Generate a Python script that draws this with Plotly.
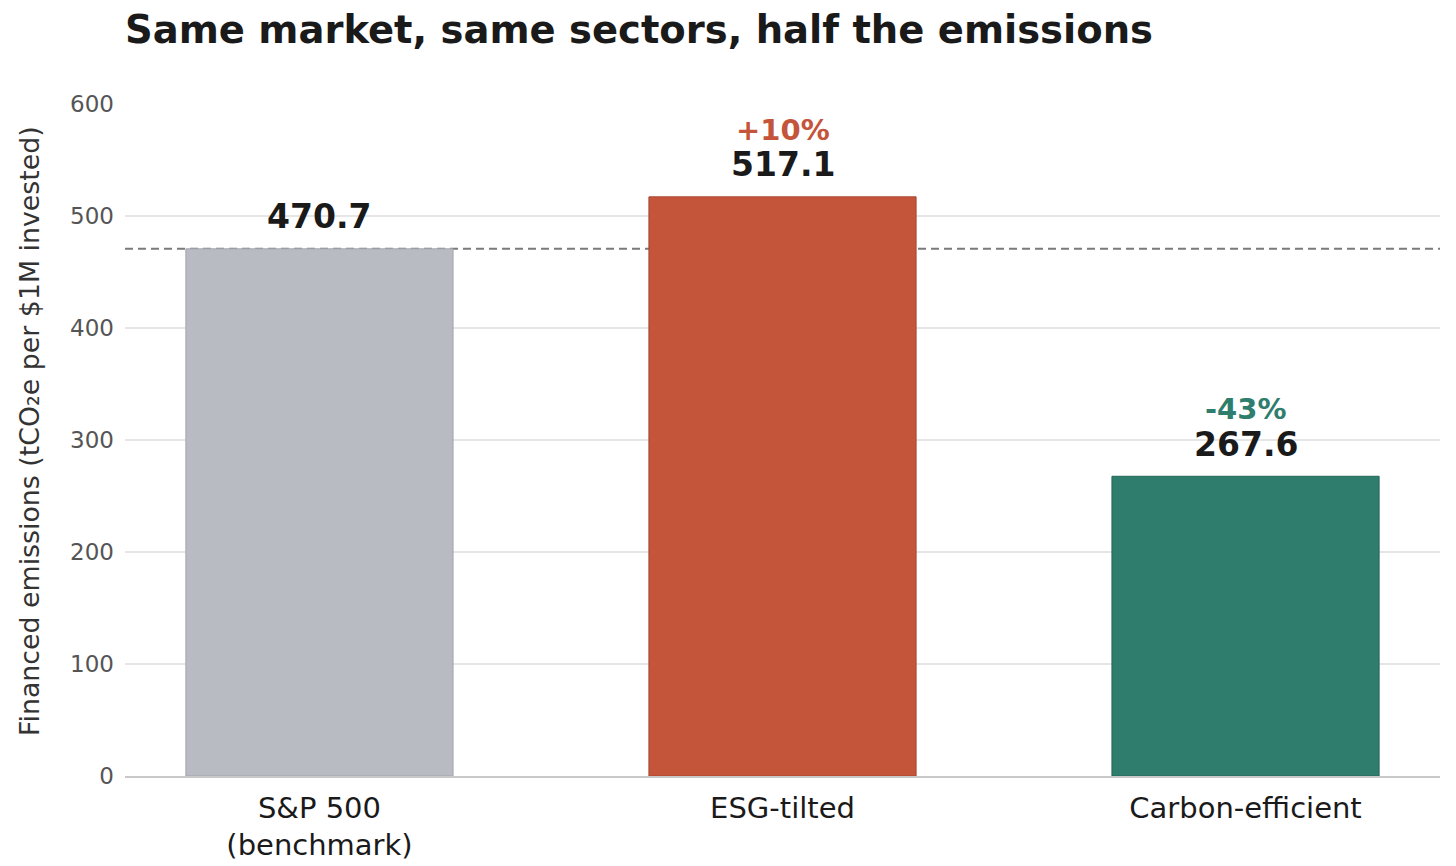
import plotly.graph_objects as go

# data
categories = ["S&P 500<br>(benchmark)", "ESG-tilted", "Carbon-efficient"]
emissions = [470.7, 517.1, 267.6]
bar_colors = ["#b8bbc2", "#c4553b", "#2e7d6d"]
edge_colors = ["#a3a6ad", "#a84630", "#23665a"]
benchmark = emissions[0]

FONT = "DejaVu Sans"

fig = go.Figure()
fig.add_trace(go.Bar(
    x=categories, y=emissions, width=0.577,
    marker=dict(color=bar_colors, line=dict(color=edge_colors, width=1)),
    hoverinfo="skip",
))

# benchmark reference line
fig.add_shape(type="line", xref="paper", yref="y", x0=0, x1=1,
              y0=benchmark, y1=benchmark, layer="below",
              line=dict(color="#7a7a7a", width=2, dash="8px,5px"))

# value labels + change vs benchmark
for i, (cat, val) in enumerate(zip(categories, emissions)):
    fig.add_annotation(x=cat, y=val, text=f"<b>{val:.1f}</b>", showarrow=False,
                       yanchor="middle", yshift=32,
                       font=dict(family=FONT, size=33, color="#1a1a1a"))
    if i > 0:
        pct = (val / benchmark - 1) * 100
        fig.add_annotation(x=cat, y=val, text=f"<b>{pct:+.0f}%</b>", showarrow=False,
                           yanchor="middle", yshift=67,
                           font=dict(family=FONT, size=29, color=bar_colors[i]))

# y-axis title as an annotation so it can sit where the reference has it
fig.add_annotation(xref="paper", yref="paper", x=0, y=0.5, xshift=-96, yshift=9,
                   xanchor="center", yanchor="middle", textangle=-90, showarrow=False,
                   text="Financed emissions (tCO₂e per $1M invested)",
                   font=dict(family=FONT, size=26.8, color="#333333"))

fig.update_layout(
    width=1456, height=866,
    margin=dict(l=125, r=16, t=104, b=90),
    paper_bgcolor="white", plot_bgcolor="white",
    showlegend=False,
    font=dict(family=FONT, color="#1a1a1a"),
    title=dict(text="<b>Same market, same sectors, half the emissions</b>",
               x=0, xanchor="left", xref="paper",
               y=1 - 30 / 866, yanchor="middle",
               font=dict(family=FONT, size=38.5, color="#1a1a1a")),
    xaxis=dict(range=[-0.42, 2.42], showgrid=False, showline=True,
               linecolor="#c8c8c8", linewidth=1.5, ticks="",
               ticklabelstandoff=5, automargin=False,
               tickfont=dict(family=FONT, size=29, color="#1a1a1a")),
    yaxis=dict(range=[0, 600], tickvals=[0, 100, 200, 300, 400, 500, 600],
               showgrid=True, gridcolor="#e6e6e6", gridwidth=1.5,
               zeroline=False, showline=False, ticks="",
               ticklabelstandoff=10, automargin=False,
               tickfont=dict(family=FONT, size=23, color="#555555")),
)

fig.write_html("out.html", config={"displayModeBar": False},
               post_script="document.body.style.margin='0';")
